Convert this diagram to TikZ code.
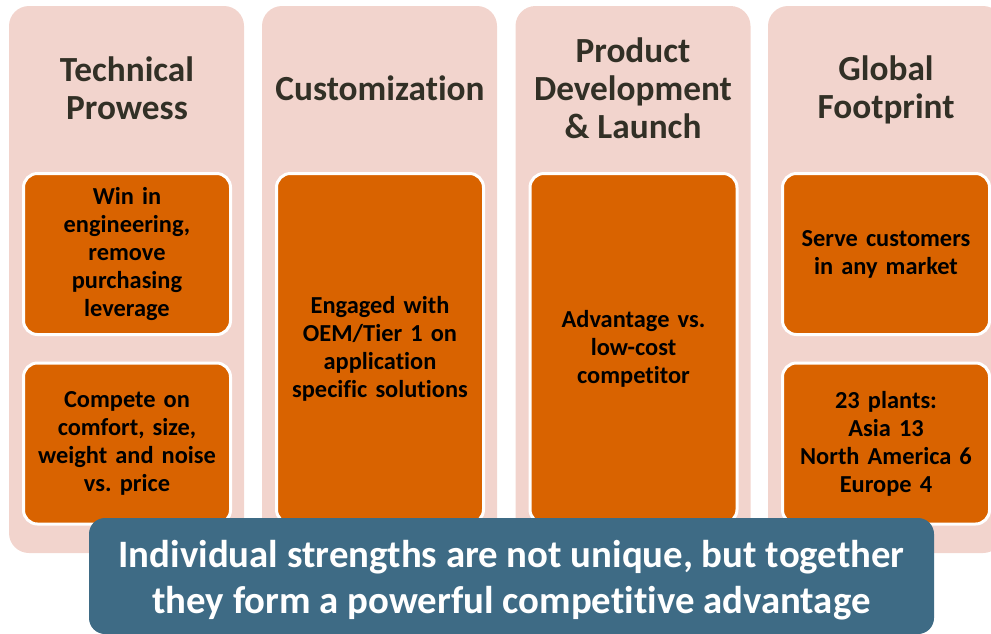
\documentclass[tikz,border=0pt]{standalone}
\usepackage{fontspec}
\setmainfont{Carlito}[Ligatures=NoCommon]

\definecolor{pillarpink}{RGB}{242,212,205}
\definecolor{strengthorange}{RGB}{217,99,0}
\definecolor{summaryblue}{RGB}{62,107,133}
\definecolor{titlegray}{RGB}{50,48,38}

\tikzset{
    pillar/.style={fill=pillarpink, rounded corners=20pt, minimum width=235pt, minimum height=547pt, inner sep=0pt},
    pillartitle/.style={text=titlegray, align=center, font=\bfseries\fontsize{35.3}{38}\selectfont},
    strength/.style={fill=strengthorange, draw=white, line width=3pt, rounded corners=14pt,
        text width=191pt, inner xsep=8pt, inner ysep=0pt, align=center,
        font=\bfseries\fontsize{24.4}{28}\selectfont},
    summary/.style={fill=summaryblue, rounded corners=16pt, minimum width=845pt, minimum height=116pt},
    summarytext/.style={text=white, align=center, font=\bfseries\fontsize{38.8}{46}\selectfont}
}

\begin{document}
\frenchspacing
\begin{tikzpicture}[x=1pt,y=-1pt]
    \useasboundingbox (0,0) rectangle (991,633);
    % the four pillars
    \node[pillar] (tech) at (126.5,279.5) {};
    \node[pillar] (cust) at (379.5,279.5) {};
    \node[pillar] (prod) at (633,279.5) {};
    \node[pillar] (glob) at (885.5,279.5) {};
    % pillar titles
    \node[pillartitle] (techtitle) at (127,88) {Technical\\Prowess};
    \node[pillartitle] (custtitle) at (380,88) {Customization};
    \node[pillartitle] (prodtitle) at (633,88) {Product\\Development\\\& Launch};
    \node[pillartitle] (globtitle) at (886,90) {Global\\Footprint};
    % strengths
    \node[strength, minimum height=161pt] (techwin) at (127,254) {Win in\\engineering,\\remove\\purchasing\\leverage};
    \node[strength, minimum height=161pt] (techcomp) at (127,443.5) {Compete on\\comfort, size,\\weight and noise\\vs. price};
    \node[strength, minimum height=350pt] (custoem) at (380,348.5) {Engaged with\\OEM/Tier 1 on\\application\\specific solutions};
    \node[strength, minimum height=350pt] (prodadv) at (633.5,348.5) {Advantage vs.\\low-cost\\competitor};
    \node[strength, minimum height=161pt] (globserve) at (886,254) {Serve customers\\in any market};
    \node[strength, minimum height=161pt] (globplants) at (886,443.5) {23 plants:\\Asia 13\\North America 6\\Europe 4};
    % summary banner
    \node[summary] (together) at (511.5,576) {};
    \node[summarytext] (togethertext) at ([yshift=-4pt]together.center) {Individual strengths are not unique, but together\\they form a powerful competitive advantage};
\end{tikzpicture}
\end{document}
